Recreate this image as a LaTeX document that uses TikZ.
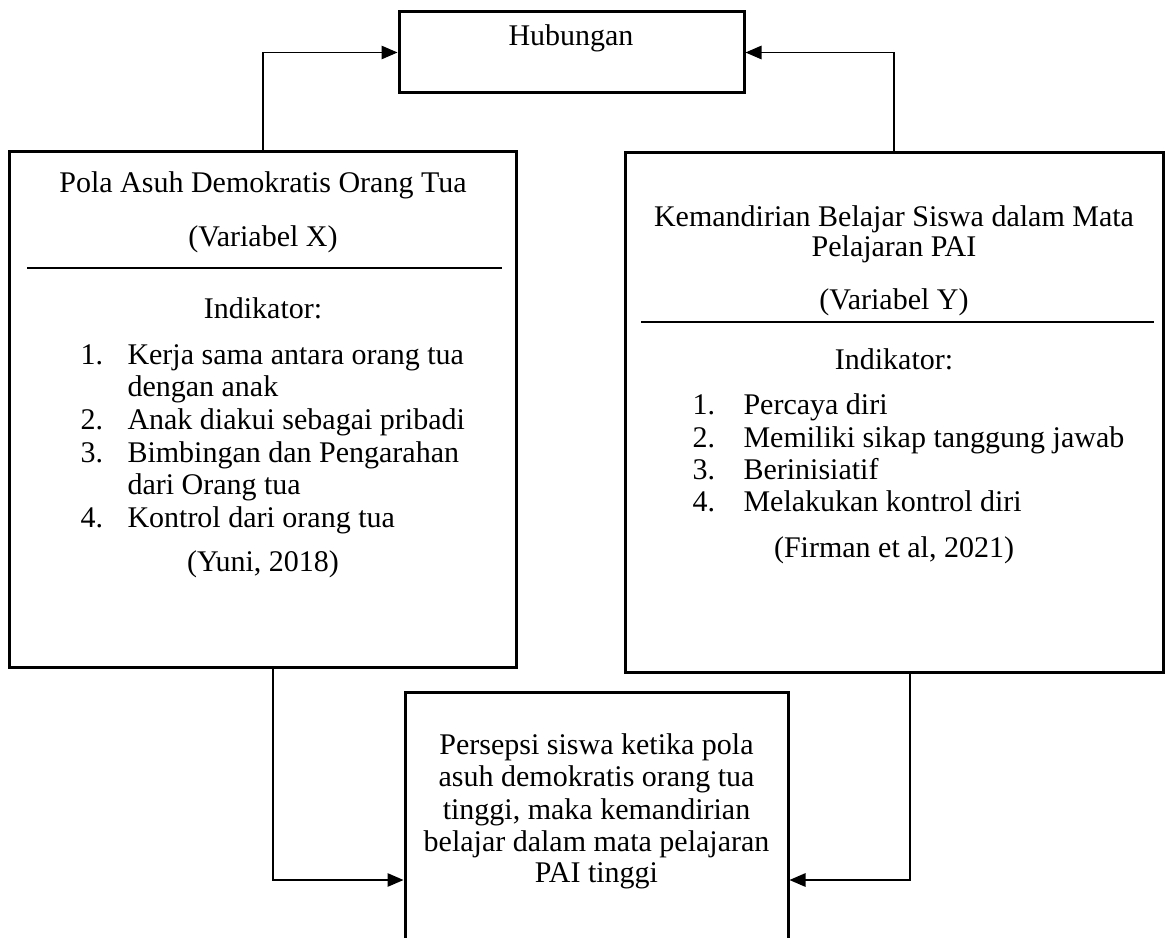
\documentclass[tikz,border=0pt]{standalone}
\usepackage{fontspec}
\setmainfont{Liberation Serif}
\usetikzlibrary{arrows.meta}

\tikzset{
  box/.style={draw,line width=1.2pt,inner sep=0pt},
  link/.style={line width=0.5pt,-{Triangle[length=6.4pt,width=5.4pt]}},
  txt/.style={font=\fontsize{12}{13}\selectfont,inner sep=0pt,anchor=mid,yshift=-1.6pt},
  lst/.style={txt,anchor=mid west},
  divider/.style={line width=0.9pt}
}

\begin{document}
\begin{tikzpicture}[x=0.4pt,y=-0.4pt]
  \useasboundingbox (0,0) rectangle (1172,938);

  \node[box,minimum width=138pt,minimum height=32.4pt] (hub) at (571.5,52.5) {};
  \node[box,minimum width=202.4pt,minimum height=206pt] (varX) at (263,409.5) {};
  \node[box,minimum width=215.2pt,minimum height=207.6pt] (varY) at (894,412.5) {};
  \node[box,minimum width=153.2pt,minimum height=150.4pt] (hasil) at (596.5,880) {};

  \node[txt] (hubT) at (571,36) {Hubungan};

  \node[txt] (xJudul) at (263,183) {Pola Asuh Demokratis Orang Tua};
  \node[txt] (xVar) at (263,237) {(Variabel X)};
  \draw[divider] (27,268) -- (502,268);
  \node[txt] (xInd) at (263,309) {Indikator:};
  \foreach \y/\n/\t [count=\i] in {355/1./{Kerja sama antara orang tua},387//{dengan anak},
      420/2./{Anak diakui sebagai pribadi},453/3./{Bimbingan dan Pengarahan},
      485//{dari Orang tua},518/4./{Kontrol dari orang tua}}{
    \node[lst] (xNo\i) at (80,\y) {\n};
    \node[lst] (xIt\i) at (127,\y) {\t};
  }
  \node[txt] (xSumber) at (263,562) {(Yuni, 2018)};

  \node[txt] (yJudul1) at (894,217) {Kemandirian Belajar Siswa dalam Mata};
  \node[txt] (yJudul2) at (894,247) {Pelajaran PAI};
  \node[txt] (yVar) at (894,300) {(Variabel Y)};
  \draw[divider] (641,322) -- (1154,322);
  \node[txt] (yInd) at (894,360) {Indikator:};
  \foreach \y/\n/\t [count=\i] in {405/1./{Percaya diri},438/2./{Memiliki sikap tanggung jawab},
      470/3./{Berinisiatif},502/4./{Melakukan kontrol diri}}{
    \node[lst] (yNo\i) at (692,\y) {\n};
    \node[lst] (yIt\i) at (743,\y) {\t};
  }
  \node[txt] (ySumber) at (894,548) {(Firman et al, 2021)};

  \foreach \y/\t [count=\i] in {745/{Persepsi siswa ketika pola},777/{asuh demokratis orang tua},
      810/{tinggi, maka kemandirian},842/{belajar dalam mata pelajaran},873/{PAI tinggi}}{
    \node[txt] (h\i) at (596.5,\y) {\t};
  }

  \draw[link] (varX.north) |- (hub.west);
  \draw[link] (varY.north) |- (hub.east);
  \draw[link] ([xshift=4pt]varX.south) |- (hasil.west);
  \draw[link] ([xshift=6.4pt]varY.south) |- (hasil.east);
\end{tikzpicture}
\end{document}
